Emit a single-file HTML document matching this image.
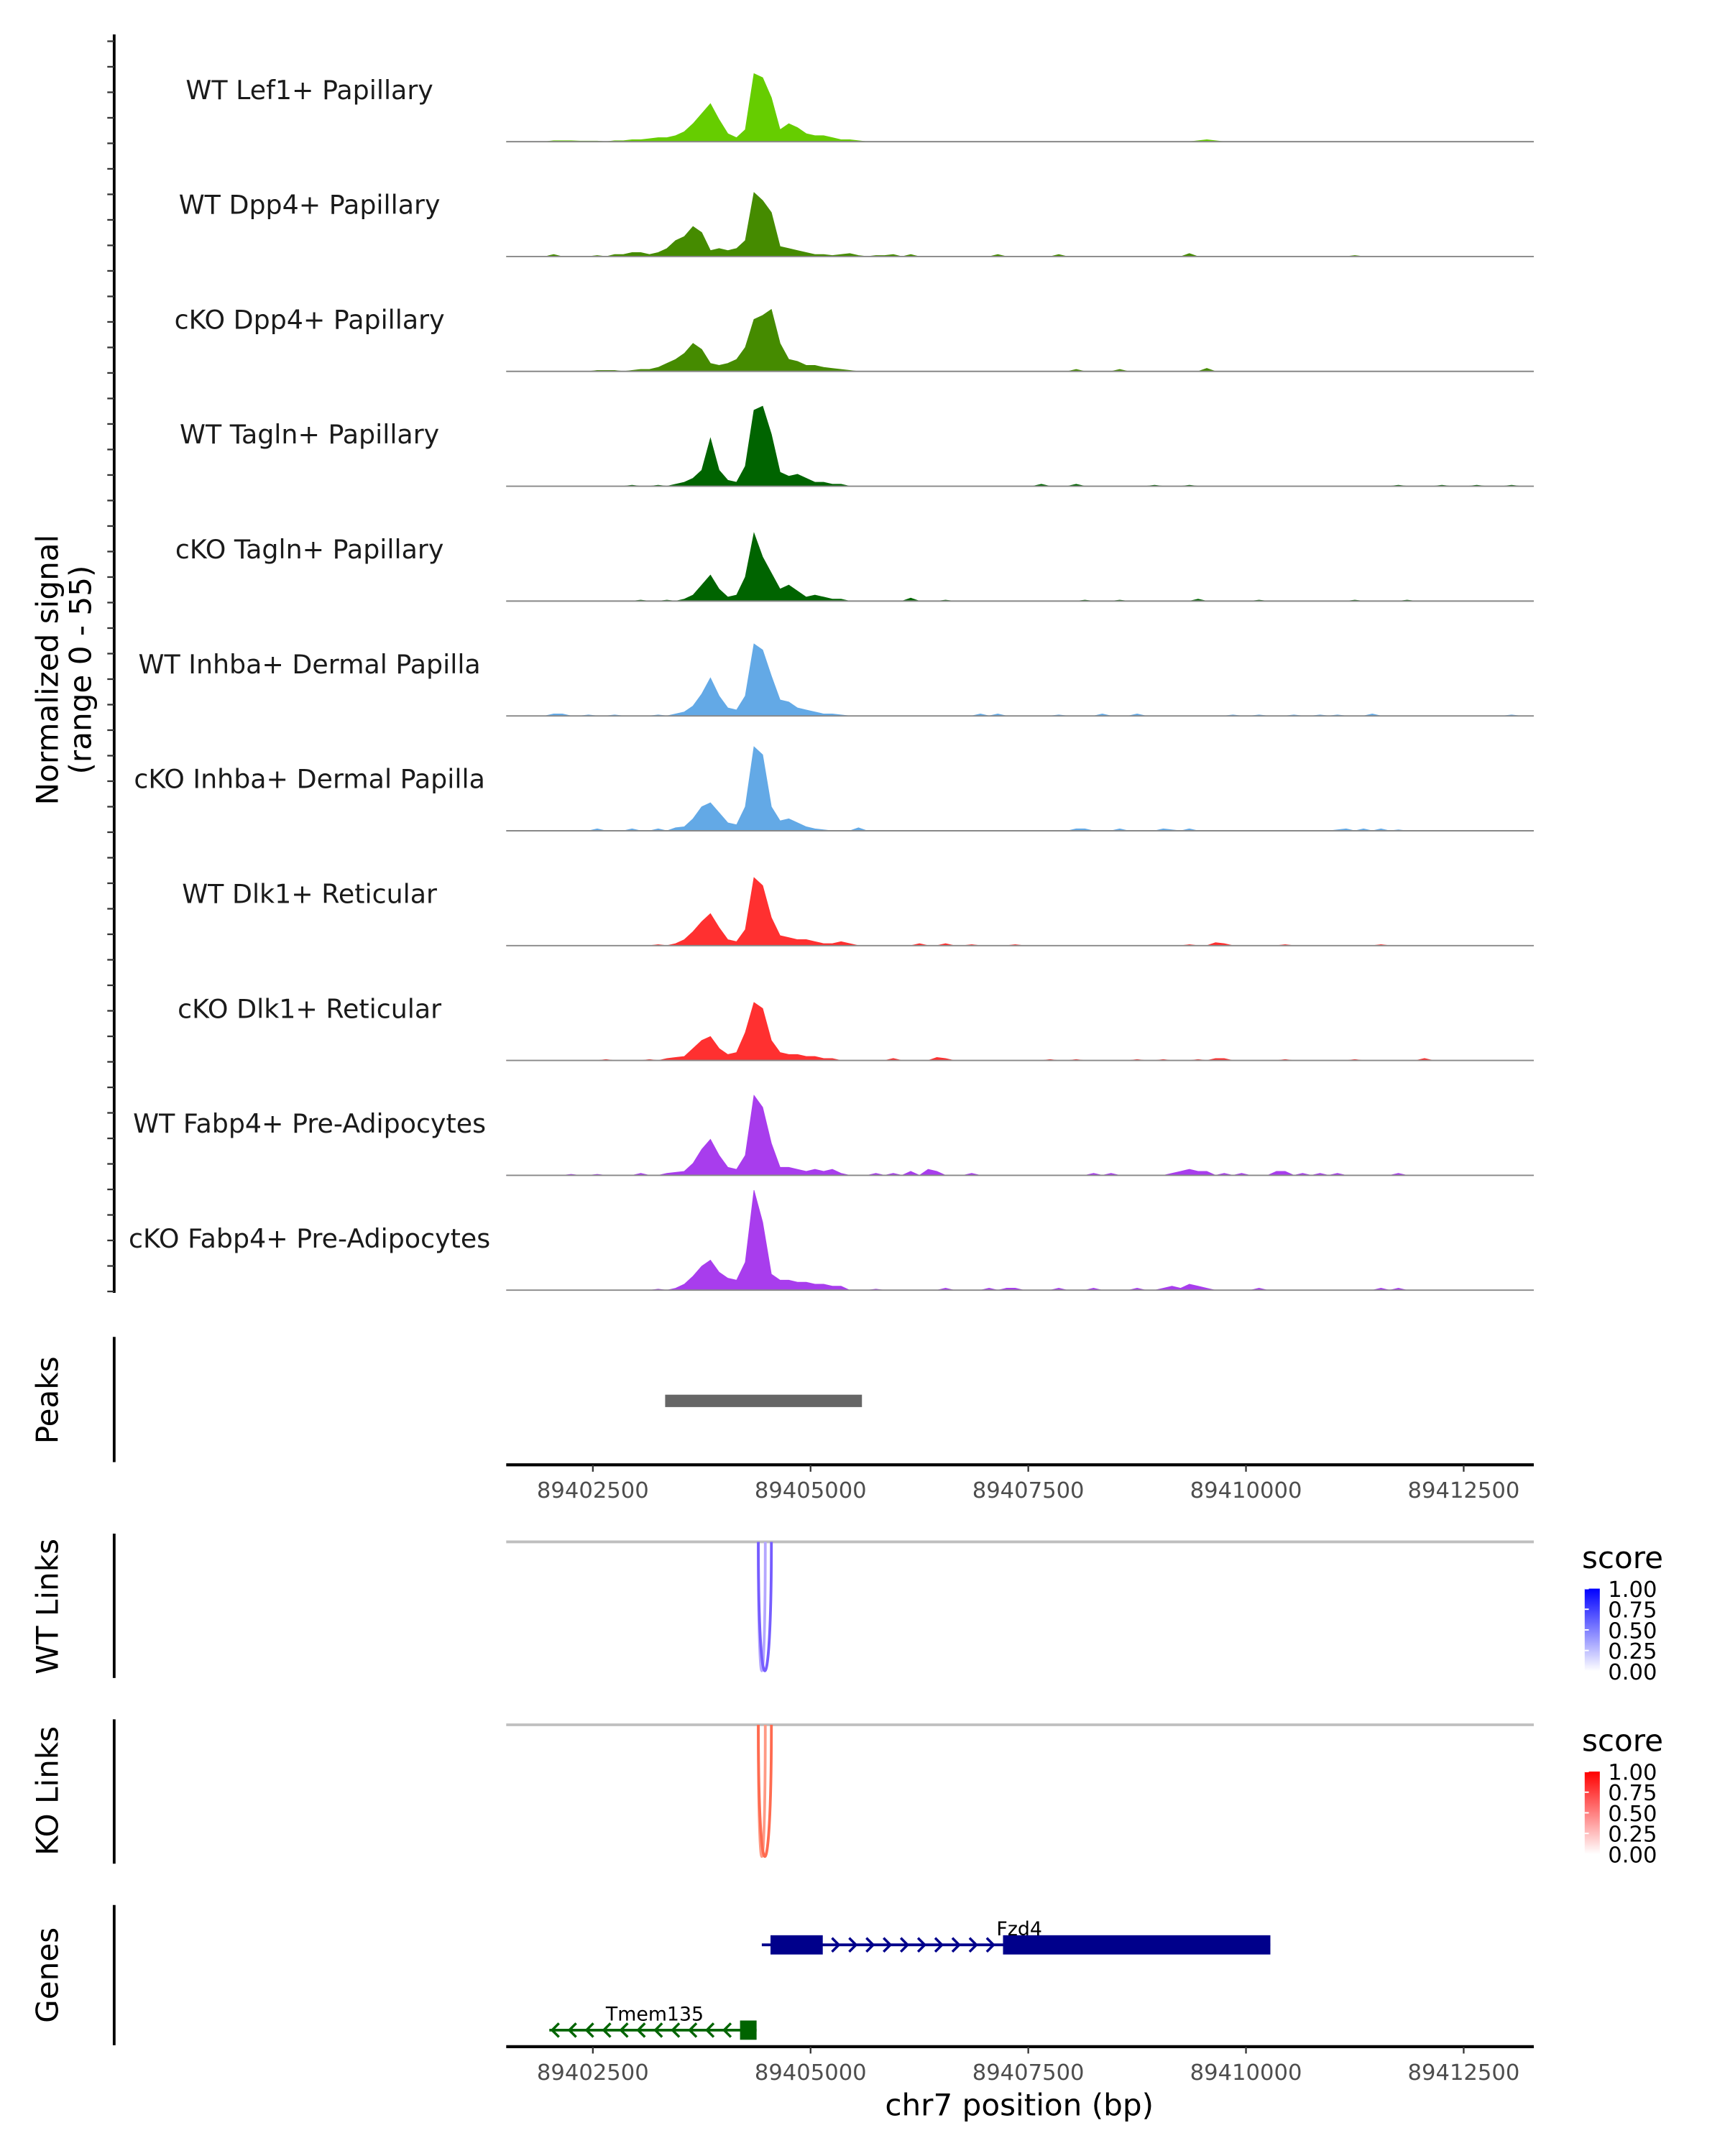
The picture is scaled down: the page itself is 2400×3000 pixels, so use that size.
<!DOCTYPE html>
<html><head><meta charset="utf-8"><style>
html,body{margin:0;padding:0;background:#fff;}
svg{display:block;font-family:"DejaVu Sans","Liberation Sans",sans-serif;}
</style></head><body>
<svg id="chart" width="2400" height="3000" viewBox="0 0 1254 1567.5" preserveAspectRatio="none" xmlns="http://www.w3.org/2000/svg">
<defs>
<linearGradient id="gBlue" x1="0" y1="1" x2="0" y2="0"><stop offset="0" stop-color="#ffffff"/><stop offset="1" stop-color="#0000ff"/></linearGradient>
<linearGradient id="gRed" x1="0" y1="1" x2="0" y2="0"><stop offset="0" stop-color="#ffffff"/><stop offset="1" stop-color="#ff0000"/></linearGradient>
</defs>
<g id="tracks"></g>
<text transform="translate(42,487) rotate(-90)" text-anchor="middle" font-size="22" fill="#000">Normalized signal</text>
<text transform="translate(66,487) rotate(-90)" text-anchor="middle" font-size="22" fill="#000">(range 0 - 55)</text>
<g id="peaks"></g>
<g id="links"></g>
<g id="genes"></g>
</svg>
<script>
const trackLabels = ["WT Lef1+ Papillary","WT Dpp4+ Papillary","cKO Dpp4+ Papillary","WT Tagln+ Papillary","cKO Tagln+ Papillary","WT Inhba+ Dermal Papilla","cKO Inhba+ Dermal Papilla","WT Dlk1+ Reticular","cKO Dlk1+ Reticular","WT Fabp4+ Pre-Adipocytes","cKO Fabp4+ Pre-Adipocytes"];
const trackColors = ["#66CD00","#458B00","#458B00","#006400","#006400","#63a9e6","#63a9e6","#ff3030","#ff3030","#a83ded","#a83ded"];
const binStart = 89401500;
const binSize = 100;
const sigLef1WT = [0,0,0,0,0,0.5,0.5,0.5,0.3,0.3, 0.3,0,0.5,0.5,1,1,1.5,2,2,3, 5,9,14,19,11,4,2,6,34,32, 22,6,9,7,4,3,3,2,1,1, 0.5,0,0,0,0,0,0,0,0,0, 0,0,0,0,0,0,0,0,0,0, 0,0,0,0,0,0,0,0,0,0, 0,0,0,0,0,0,0,0,0,0.5, 1,0.5,0,0,0,0,0,0,0,0, 0,0,0,0,0,0,0,0,0,0, 0,0,0,0,0,0,0,0,0,0, 0,0,0,0,0,0,0,0];
const sigDpp4WT = [0,0,0,0,0,1,0,0,0,0, 0.5,0,1,1,2,2,1,2,4,8, 10,15,12,3,4,3,4,8,32,28, 22,5,4,3,2,1,1,0.5,1,1.5, 0.5,0,0.5,0.5,1,0,1,0,0,0, 0,0,0,0,0,0,1,0,0,0, 0,0,0,1,0,0,0,0,0,0, 0,0,0,0,0,0,0,0,1.5,0, 0,0,0,0,0,0,0,0,0,0, 0,0,0,0,0,0,0,0.5,0,0, 0,0,0,0,0,0,0,0,0,0, 0,0,0,0,0,0,0,0];
const sigDpp4KO = [0,0,0,0,0,0,0,0,0,0, 0.5,0.5,0.5,0,0.5,1,1,2,4,6, 9,14,11,4,3,4,6,12,26,28, 31,14,6,5,3,3,2,1.5,1,0.5, 0,0,0,0,0,0,0,0,0,0, 0,0,0,0,0,0,0,0,0,0, 0,0,0,0,0,1,0,0,0,0, 1,0,0,0,0,0,0,0,0,0, 1.5,0,0,0,0,0,0,0,0,0, 0,0,0,0,0,0,0,0,0,0, 0,0,0,0,0,0,0,0,0,0, 0,0,0,0,0,0,0,0];
const sigTaglnWT = [0,0,0,0,0,0,0,0,0,0, 0,0,0,0,0.5,0,0,0.5,0,1, 2,4,8,24,8,3,2,10,38,40, 26,7,5,6,4,2,2,1,1,0, 0,0,0,0,0,0,0,0,0,0, 0,0,0,0,0,0,0,0,0,0, 0,1,0,0,0,1,0,0,0,0, 0,0,0,0,0.5,0,0,0,0.5,0, 0,0,0,0,0,0,0,0,0,0, 0,0,0,0,0,0,0,0,0,0, 0,0,0.5,0,0,0,0,0.5,0,0, 0,0.5,0,0,0,0.5,0,0];
const sigTaglnKO = [0,0,0,0,0,0,0,0,0,0, 0,0,0,0,0,0.5,0,0,0.5,0, 1,3,8,13,6,2,3,12,34,22, 14,6,8,5,2,3,2,1,1,0, 0,0,0,0,0,0,1.5,0,0,0, 0.5,0,0,0,0,0,0,0,0,0, 0,0,0,0,0,0,0.5,0,0,0, 0.5,0,0,0,0,0,0,0,0,1, 0,0,0,0,0,0,0.5,0,0,0, 0,0,0,0,0,0,0,0.5,0,0, 0,0,0,0.5,0,0,0,0,0,0, 0,0,0,0,0,0,0,0];
const sigInhbaWT = [0,0,0,0,0,1,1,0,0,0.5, 0,0,0.5,0,0,0,0,0.5,0,1, 2,5,11,19,10,4,3,10,36,33, 20,8,7,4,3,2,1,1,0.5,0, 0,0,0,0,0,0,0,0,0,0, 0,0,0,0,1,0,1,0,0,0, 0,0,0,0.5,0,0,0,0,1,0, 0,0,1,0,0,0,0,0,0,0, 0,0,0,0.5,0,0,0.5,0,0,0, 0.5,0,0,0.5,0,0.5,0,0,0,1, 0,0,0,0,0,0,0,0,0,0, 0,0,0,0,0,0.5,0,0];
const sigInhbaKO = [0,0,0,0,0,0,0,0,0,0, 1,0,0,0,1,0,0,1,0,1.5, 2,6,12,14,9,4,3,12,42,38, 12,5,6,4,2,1,0.5,0,0,0, 1.5,0,0,0,0,0,0,0,0,0, 0,0,0,0,0,0,0,0,0,0, 0,0,0,0,0,1,1,0,0,0, 1,0,0,0,0,1,0.5,0,1,0, 0,0,0,0,0,0,0,0,0,0, 0,0,0,0,0,0.5,1,0,1,0, 1,0,0.5,0,0,0,0,0,0,0, 0,0,0,0,0,0,0,0];
const sigDlk1WT = [0,0,0,0,0,0,0,0,0,0, 0,0,0,0,0,0,0,0.5,0,1, 3,7,12,16,9,3,2,8,34,30, 14,5,4,3,3,2,1,1,2,1, 0,0,0,0,0,0,0,1,0,0, 1,0,0,0.5,0,0,0,0,0.5,0, 0,0,0,0,0,0,0,0,0,0, 0,0,0,0,0,0,0,0,0.5,0, 0,1.5,1,0,0,0,0,0,0,0.5, 0,0,0,0,0,0,0,0,0,0, 0.5,0,0,0,0,0,0,0,0,0, 0,0,0,0,0,0,0,0];
const sigDlk1KO = [0,0,0,0,0,0,0,0,0,0, 0,0.5,0,0,0,0,0.5,0,1,1.5, 2,6,10,12,6,3,4,14,29,26, 10,4,3,3,2,2,1,1,0,0, 0,0,0,0,1,0,0,0,0,1.5, 1,0,0,0,0,0,0,0,0,0, 0,0,0.5,0,0,0.5,0,0,0,0, 0,0,0.5,0,0,0.5,0,0,0,0.5, 0,1,1,0,0,0,0,0,0,0.5, 0,0,0,0,0,0,0,0.5,0,0, 0,0,0,0,0,1,0,0,0,0, 0,0,0,0,0,0,0,0];
const sigFabp4WT = [0,0,0,0,0,0,0,0.5,0,0, 0.5,0,0,0,0,1,0,0,1,1.5, 2,6,13,18,10,4,3,10,40,34, 16,4,4,3,2,3,2,3,1,0, 0,0,1,0,1,0,2,0,3,2, 0,0,0,1,0,0,0,0,0,0, 0,0,0,0,0,0,0,1,0,1, 0,0,0,0,0,0,1,2,3,2, 2,0,1,0,1,0,0,0,2,2, 0,1,0,1,0,1,0,0,0,0, 0,0,1,0,0,0,0,0,0,0, 0,0,0,0,0,0,0,0];
const sigFabp4KO = [0,0,0,0,0,0,0,0,0,0, 0,0,0,0,0,0,0,0.5,0,1, 3,7,12,15,9,6,5,14,50,34, 8,5,5,4,4,3,3,2,2,0, 0,0,0.5,0,0,0,0,0,0,0, 1,0,0,0,0,1,0,1,1,0, 0,0,0,1,0,0,0,1,0,0, 0,0,1,0,0,1,2,1,3,2, 1,0,0,0,0,0,1,0,0,0, 0,0,0,0,0,0,0,0,0,0, 1,0,1,0,0,0,0,0,0,0, 0,0,0,0,0,0,0,0];
const trackSignals = [sigLef1WT,sigDpp4WT,sigDpp4KO,sigTaglnWT,sigTaglnKO,sigInhbaWT,sigInhbaKO,sigDlk1WT,sigDlk1KO,sigFabp4WT,sigFabp4KO];
const xTicks = [89402500,89405000,89407500,89410000,89412500];
const peakStart = 89403330, peakEnd = 89405590;
const wtLinks = [[89404400,89404480,0.35],[89404400,89404550,0.8]];
const koLinks = [[89404400,89404480,0.45],[89404400,89404550,0.8]];
const legendTicks = ["1.00","0.75","0.50","0.25","0.00"];
const fzd4 = {start:89404440, end:89410280, exons:[[89404540,89405140],[89407210,89410280]]};
const tmem135 = {start:89402000, end:89404380, exons:[[89404190,89404380]]};

const NS="http://www.w3.org/2000/svg";
const X0=368, X1=1115, D0=89401505, D1=89413305;
const yMax=55, trackH=80, firstBase=103, trackStep=83.5;
function xs(bp){return X0+(bp-D0)/(D1-D0)*(X1-X0);}
function mk(tag,attrs,parent){const e=document.createElementNS(NS,tag);for(const k in attrs)e.setAttribute(k,attrs[k]);parent.appendChild(e);return e;}
const svg=document.getElementById('chart');
const gT=document.getElementById('tracks');

let ax=mk('line',{x1:83,y1:25,x2:83,y2:940,stroke:'#000','stroke-width':2},gT);


for(let y=30;y<=940;y+=18.55){
  let t=mk('line',{x1:78,y1:y,x2:83,y2:y,stroke:'#333','stroke-width':1.2},gT);
  
  
}
trackSignals.forEach((arr,k)=>{
  const base=firstBase+k*trackStep;
  const g=mk('g',{},gT);
  
  
  let d='M'+X0+','+base;
  arr.forEach((v,i)=>{
    const x=xs(binStart+i*binSize+binSize/2);
    const y=base-v/yMax*trackH;
    d+=' L'+x.toFixed(2)+','+y.toFixed(2);
  });
  d+=' L'+X1+','+base+' Z';
  const p=mk('path',{d:d,fill:trackColors[k],stroke:trackColors[k],'stroke-width':0.4},g);
  
  
  const bl=mk('line',{x1:X0,y1:base,x2:X1,y2:base,stroke:'#888','stroke-width':1},g);
  
  
  const lab=mk('text',{x:225,y:base-31,'text-anchor':'middle','font-size':19,fill:'#1a1a1a'},g);
  lab.textContent=trackLabels[k];
  
  
});

function xAxis(parent,y,name){
  const a=mk('line',{x1:X0,y1:y,x2:X1,y2:y,stroke:'#000','stroke-width':2.2},parent);
  
  
  xTicks.forEach(t=>{
    const x=xs(t);
    const tk=mk('line',{x1:x,y1:y,x2:x,y2:y+5,stroke:'#333','stroke-width':1.2},parent);
    
    
    const tl=mk('text',{x:x,y:y+24,'text-anchor':'middle','font-size':16,fill:'#4d4d4d'},parent);
    tl.textContent=String(t);
    
    
  });
}
function panelTitle(parent,text,cx,cy,name,y1,y2){
  const t=mk('text',{transform:'translate('+cx+','+cy+') rotate(-90)','text-anchor':'middle','font-size':22,fill:'#000'},parent);
  t.textContent=text;
  
  
  const l=mk('line',{x1:83,y1:y1,x2:83,y2:y2,stroke:'#000','stroke-width':2},parent);
  
  
}
const gP=document.getElementById('peaks');
panelTitle(gP,'Peaks',42,1018,'peaks-title',972,1063);
const pk=mk('rect',{x:xs(peakStart),y:1014,width:xs(peakEnd)-xs(peakStart),height:9,fill:'#666'},gP);


xAxis(gP,1065,'peaks-x-axis');

const gL=document.getElementById('links');
function linkPanel(top,bottom,links,title,titleY,axTop,axBot,grad,c0,c1,lname){
  panelTitle(gL,title,42,titleY,lname+'-title',axTop,axBot);
  const gl=mk('line',{x1:X0,y1:top,x2:X1,y2:top,stroke:'#bfbfbf','stroke-width':2},gL);
  
  
  links.forEach(l=>{
    const a=xs(l[0]),b=xs(l[1]),depth=bottom-top;
    const col='rgb('+Math.round(c0[0]+(c1[0]-c0[0])*l[2])+','+Math.round(c0[1]+(c1[1]-c0[1])*l[2])+','+Math.round(c0[2]+(c1[2]-c0[2])*l[2])+')';
    const p=mk('path',{d:'M'+a+','+top+' C'+a+','+(top+depth*1.33)+' '+b+','+(top+depth*1.33)+' '+b+','+top,fill:'none',stroke:col,'stroke-width':2},gL);
    
    
  });
  const lt=mk('text',{x:1150,y:top+19,'font-size':22,fill:'#000'},gL);
  lt.textContent='score';
  
  
  const cb=mk('rect',{x:1152,y:top+34,width:11,height:60,fill:'url(#'+grad+')'},gL);
  
  
  legendTicks.forEach((s,i)=>{
    const y=top+34+i*15;
    const tt=mk('text',{x:1169,y:y+6,'font-size':16,fill:'#000'},gL);
    tt.textContent=s;
    
    
    const tk=mk('line',{x1:1152,y1:y,x2:1155,y2:y,stroke:'#fff','stroke-width':1},gL);
    
    
  });
}
linkPanel(1121,1215,wtLinks,'WT Links',1168,1115,1220,'gBlue',[230,225,255],[90,60,255],'wt-links');
linkPanel(1254,1350,koLinks,'KO Links',1302,1250,1355,'gRed',[255,215,200],[255,80,50],'ko-links');

const gG=document.getElementById('genes');
panelTitle(gG,'Genes',42,1436,'genes-title',1385,1487);
function gene(g,y,col,name,dir,labelX){
  const gg=mk('g',{},gG);
  
  
  const a=xs(g.start),b=xs(g.end);
  mk('line',{x1:a,y1:y,x2:b,y2:y,stroke:col,'stroke-width':2},gg);
  g.exons.forEach(e=>{
    const r=mk('rect',{x:xs(e[0]),y:y-7,width:xs(e[1])-xs(e[0]),height:14,fill:col},gg);
    
    
  });
  for(let x=a+4;x<b-4;x+=12.5){
    let inside=g.exons.some(e=>x>xs(e[0])-4&&x<xs(e[1])+4);
    if(inside)continue;
    mk('path',{d:dir>0?('M'+(x-3)+','+(y-5)+' L'+(x+2)+','+y+' L'+(x-3)+','+(y+5)):('M'+(x+3)+','+(y-5)+' L'+(x-2)+','+y+' L'+(x+3)+','+(y+5)),fill:'none',stroke:col,'stroke-width':1.8},gg);
  }
  const t=mk('text',{x:labelX,y:y-7,'text-anchor':'middle','font-size':14,fill:'#000'},gg);
  t.textContent=name;
  
  
}
gene(fzd4,1414,'#00008B','Fzd4',1,741);
gene(tmem135,1476,'#006400','Tmem135',-1,476);
xAxis(gG,1488,'genes-x-axis');
const xt=mk('text',{x:741,y:1538,'text-anchor':'middle','font-size':22,fill:'#000'},gG);
xt.textContent='chr7 position (bp)';


</script>
</body></html>
